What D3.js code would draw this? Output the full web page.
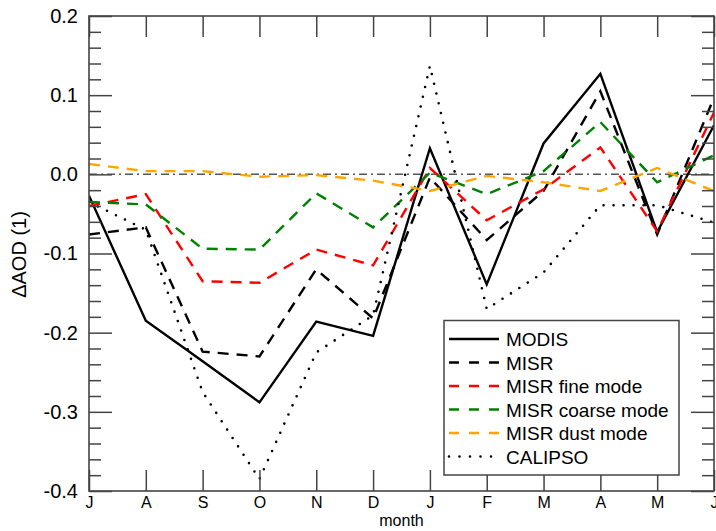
<!DOCTYPE html>
<html>
<head>
<meta charset="utf-8">
<script src="https://cdn.jsdelivr.net/npm/d3@7"></script>
<style>
  body { margin: 0; background: #fff; }
  text { font-family: "Liberation Sans", Arial, Helvetica, sans-serif; fill: #000; }
</style>
</head>
<body>
<div id="chart"></div>
<script>
const months = ["J", "A", "S", "O", "N", "D", "J", "F", "M", "A", "M", "J"];

const modis   = [-0.027, -0.185, -0.236, -0.288, -0.186, -0.204, 0.033, -0.139, 0.039, 0.127, -0.073, 0.062];
const misr    = [-0.076, -0.067, -0.224, -0.230, -0.120, -0.182, -0.004, -0.083, -0.021, 0.105, -0.076, 0.097];
const misrFine   = [-0.040, -0.025, -0.135, -0.137, -0.095, -0.115, 0.008, -0.058, -0.019, 0.034, -0.072, 0.078];
const misrCoarse = [-0.035, -0.038, -0.094, -0.095, -0.024, -0.067, 0.002, -0.025, 0.004, 0.066, -0.010, 0.024];
const misrDust   = [0.013, 0.004, 0.004, -0.003, -0.001, -0.008, -0.021, -0.002, -0.010, -0.021, 0.008, -0.021];
const calipso = [-0.035, -0.070, -0.275, -0.385, -0.225, -0.178, 0.137, -0.170, -0.124, -0.039, -0.039, -0.061];

const yMajor = [-0.4, -0.3, -0.2, -0.1, 0.0, 0.1, 0.2];

const series = [
    { name: "MODIS", values: modis, color: "#000", dash: null },
    { name: "MISR", values: misr, color: "#000", dash: "11,8" },
    { name: "MISR fine mode", values: misrFine, color: "#ff0000", dash: "11,8" },
    { name: "MISR coarse mode", values: misrCoarse, color: "#008000", dash: "11,8" },
    { name: "MISR dust mode", values: misrDust, color: "#ffa500", dash: "11,8" },
    { name: "CALIPSO", values: calipso, color: "#000", dash: "0,10" }
];

const MARGIN = { LEFT: 89, RIGHT: 2, TOP: 16, BOTTOM: 40 };
const WIDTH = 716 - MARGIN.LEFT - MARGIN.RIGHT;
const HEIGHT = 531 - MARGIN.TOP - MARGIN.BOTTOM;
const AXIS_COLOR = "#444";

const svg = d3.select("#chart")
    .append("svg")
    .attr("width", 716)
    .attr("height", 531)
    .append("g")
    .attr("transform", `translate(${MARGIN.LEFT}, ${MARGIN.TOP})`);

const x = d3.scaleLinear().domain([0, months.length - 1]).range([0, WIDTH]);
const y = d3.scaleLinear().domain([-0.4, 0.2]).range([HEIGHT, 0]);

// minor ticks every 0.02, skipping the majors
const yMinor = d3.range(-0.4, 0.2001, 0.02).filter(v => Math.abs(Math.round(v * 10) - v * 10) > 0.01);

svg.append("defs").append("clipPath").attr("id", "plot")
    .append("rect").attr("width", WIDTH).attr("height", HEIGHT);

// zero line
svg.append("line")
    .attr("x1", 0).attr("x2", WIDTH)
    .attr("y1", y(0)).attr("y2", y(0))
    .attr("stroke", "#555")
    .attr("stroke-width", 1.5)
    .attr("stroke-dasharray", "8,4,2,4");

const line = d3.line()
    .x((d, i) => x(i))
    .y(d => y(d));

const lines = svg.append("g").attr("clip-path", "url(#plot)");
series.forEach(s => {
    lines.append("path")
        .datum(s.values)
        .attr("d", line)
        .attr("fill", "none")
        .attr("stroke", s.color)
        .attr("stroke-width", s.name == "CALIPSO" ? 2.6 : 2.4)
        .attr("stroke-linecap", s.name == "CALIPSO" ? "round" : "butt")
        .attr("stroke-dasharray", s.dash);
});

// axes, ticks pointing inward
const fmt = d => d.toFixed(1);

const bottom = svg.append("g").attr("transform", `translate(0, ${HEIGHT})`)
    .call(d3.axisBottom(x).tickValues(d3.range(months.length))
        .tickFormat(i => months[i]).tickSize(-21).tickSizeOuter(0).tickPadding(6));
bottom.selectAll(".tick text").style("font-size", "16px");

svg.append("g")
    .call(d3.axisTop(x).tickValues(d3.range(months.length))
        .tickFormat("").tickSize(-21).tickSizeOuter(0));

const left = svg.append("g")
    .call(d3.axisLeft(y).tickValues(yMajor).tickFormat(fmt).tickSize(-23).tickSizeOuter(0).tickPadding(11));
left.selectAll(".tick text").style("font-size", "20px");
svg.append("g")
    .call(d3.axisLeft(y).tickValues(yMinor).tickFormat("").tickSize(-12).tickSizeOuter(0));

svg.append("g").attr("transform", `translate(${WIDTH}, 0)`)
    .call(d3.axisRight(y).tickValues(yMajor).tickFormat("").tickSize(-23).tickSizeOuter(0));
svg.append("g").attr("transform", `translate(${WIDTH}, 0)`)
    .call(d3.axisRight(y).tickValues(yMinor).tickFormat("").tickSize(-12).tickSizeOuter(0));

svg.selectAll(".domain").remove();
svg.selectAll(".tick line").attr("stroke", AXIS_COLOR).attr("stroke-width", 1.5);
svg.selectAll(".tick text").attr("fill", "#000").style("font-family", "'Liberation Sans', Arial, sans-serif");

svg.append("rect")
    .attr("width", WIDTH).attr("height", HEIGHT)
    .attr("fill", "none")
    .attr("stroke", AXIS_COLOR)
    .attr("stroke-width", 1.6);

// axis labels
svg.append("text")
    .attr("x", WIDTH / 2)
    .attr("y", HEIGHT + 35)
    .attr("text-anchor", "middle")
    .style("font-size", "16px")
    .text("month");

svg.append("text")
    .attr("transform", `translate(${26 - MARGIN.LEFT}, ${254.5 - MARGIN.TOP}) rotate(-90)`)
    .attr("text-anchor", "middle")
    .style("font-size", "20px")
    .text("ΔAOD (1)");

// legend
const legend = svg.append("g")
    .attr("transform", `translate(${444 - MARGIN.LEFT}, ${320.5 - MARGIN.TOP})`);

legend.append("rect")
    .attr("width", 235).attr("height", 154.5)
    .attr("fill", "#fff")
    .attr("stroke", AXIS_COLOR)
    .attr("stroke-width", 1.5);

series.forEach((s, i) => {
    const row = legend.append("g").attr("transform", `translate(0, ${18.5 + i * 23.5})`);
    row.append("line")
        .attr("x1", 5).attr("x2", 55)
        .attr("stroke", s.color)
        .attr("stroke-width", s.name == "CALIPSO" ? 2.6 : 2.4)
        .attr("stroke-linecap", s.name == "CALIPSO" ? "round" : "butt")
        .attr("stroke-dasharray", s.name == "CALIPSO" ? "0,10.5" : (s.dash ? "10,10" : null));
    row.append("text")
        .attr("x", 62)
        .attr("y", 7)
        .style("font-size", "19px")
        .text(s.name);
});
</script>
</body>
</html>
